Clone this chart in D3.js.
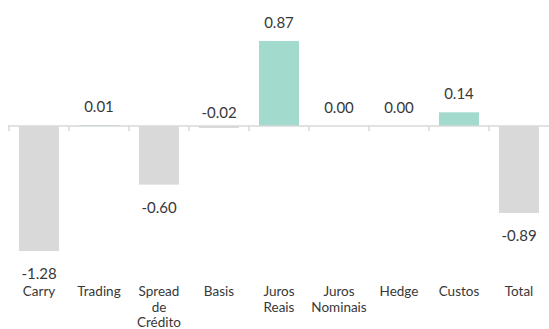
<!DOCTYPE html>
<html>
<head>
<meta charset="utf-8">
<script src="https://cdn.jsdelivr.net/npm/d3@7"></script>
<style>
  html, body { margin: 0; padding: 0; background: #fff; }
  svg { display: block; font-family: Lato, "Open Sans", sans-serif; }
</style>
</head>
<body>
<svg id="chart" width="549" height="329"></svg>
<script>
// Performance attribution by factor
const categories = ["Carry", "Trading", "Spread de Crédito", "Basis", "Juros Reais", "Juros Nominais", "Hedge", "Custos", "Total"];
const labelLines = [["Carry"], ["Trading"], ["Spread", "de", "Crédito"], ["Basis"], ["Juros", "Reais"], ["Juros", "Nominais"], ["Hedge"], ["Custos"], ["Total"]];
const values = [-1.28, 0.01, -0.60, -0.02, 0.87, 0.00, 0.00, 0.14, -0.89];

const svg = d3.select("#chart");

const x = d3.scaleBand()
  .domain(categories)
  .range([9, 549])
  .paddingInner(1 / 3)
  .paddingOuter(1 / 6);

const y = d3.scaleLinear()
  .domain([-1.5, 1.0])
  .range([126 + 1.5 * 97.7, 126 - 97.7]);

const gridColor = "#d9d9d9";
const textColor = "#383838";
const gap = x.step() * x.paddingInner();

// bars
svg.append("g").selectAll("rect")
  .data(values)
  .join("rect")
  .attr("x", (d, i) => x(categories[i]))
  .attr("width", x.bandwidth())
  .attr("y", d => Math.min(y(d), y(0)))
  .attr("height", d => Math.abs(y(d) - y(0)))
  .attr("fill", d => d > 0 ? "#a2dacd" : "#d9d9d9");

// zero axis with category separators
const axis = svg.append("g");
const x0 = x(categories[0]) - gap / 2;
const x1 = x(categories[categories.length - 1]) + x.bandwidth() + gap / 2;
axis.append("line")
  .attr("x1", x0 - 1).attr("x2", x1)
  .attr("y1", y(0)).attr("y2", y(0))
  .attr("stroke", gridColor).attr("stroke-width", 1.5);
axis.selectAll("line.tick")
  .data(categories)
  .join("line")
  .attr("class", "tick")
  .attr("x1", d => x(d) - gap / 2)
  .attr("x2", d => x(d) - gap / 2)
  .attr("y1", y(0))
  .attr("y2", y(0) + 5)
  .attr("stroke", gridColor).attr("stroke-width", 1.5);

// value labels: below the bar for clearly negative values, above otherwise
svg.append("g").selectAll("text")
  .data(values)
  .join("text")
  .attr("x", (d, i) => x(categories[i]) + x.bandwidth() / 2)
  .attr("y", d => d <= -0.1 ? y(d) + 28 : (d < 0 ? y(0) - 8 : Math.min(y(d), y(0)) - 13))
  .attr("text-anchor", "middle")
  .attr("font-size", 15)
  .attr("fill", textColor)
  .text(d => d.toFixed(2));

// category labels
const cat = svg.append("g").selectAll("text")
  .data(categories)
  .join("text")
  .attr("x", d => x(d) + x.bandwidth() / 2)
  .attr("y", 296)
  .attr("text-anchor", "middle")
  .attr("font-size", 13.5)
  .attr("fill", textColor);
cat.each(function (d, i) {
  d3.select(this).selectAll("tspan")
    .data(labelLines[i])
    .join("tspan")
    .attr("x", x(d) + x.bandwidth() / 2)
    .attr("dy", (t, j) => j === 0 ? 0 : 15.5)
    .text(t => t);
});
</script>
</body>
</html>
